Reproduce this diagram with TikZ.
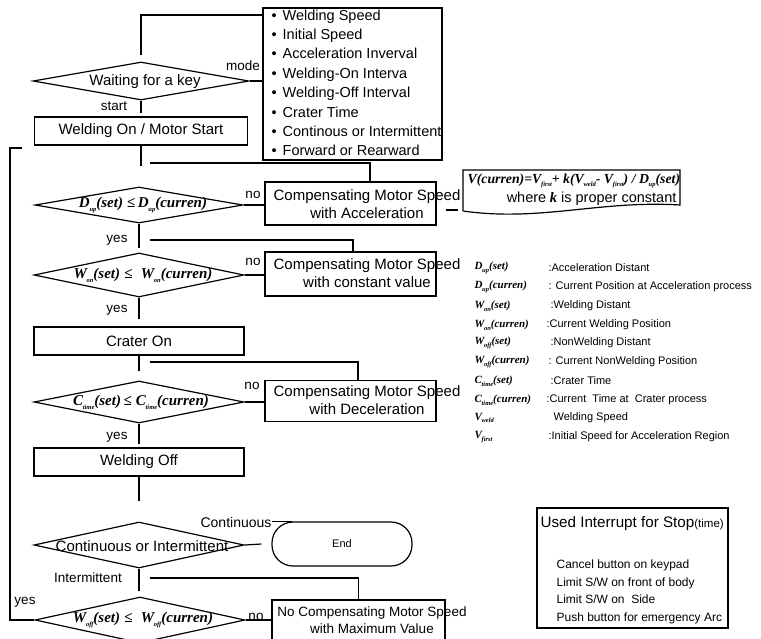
\documentclass[tikz,border=0pt]{standalone}
\usepackage{fontspec}
\setmainfont{Liberation Sans}
\newfontfamily\tmsfont{Liberation Serif}
\usetikzlibrary{shapes.geometric}
\newcommand\fsz[1]{\fontsize{#1}{#1}\selectfont}
\newcommand\subx[2]{#1\kern-0.3pt\raisebox{-0.55ex}{\fontsize{6.5}{6.5}\selectfont #2}}
\newcommand\mysym[3]{{\tmsfont\bfseries\itshape\subx{#1}{#2}(#3)}}
\newcommand\myle{{\tmsfont\bfseries ≤}}
\begin{document}
\begin{tikzpicture}[x=1pt,y=-1pt, line width=1.2pt,
  box/.style={draw, rectangle, inner sep=0pt},
  dia/.style={draw, diamond, inner sep=0pt},
  txt/.style={font=\fsz{15}, inner sep=0pt},
  two/.style={font=\fontsize{15}{18.5}\selectfont, inner sep=0pt, align=center},
  lab/.style={font=\fsz{13.5}, inner sep=0pt},
  cond/.style={font=\fsz{15}, inner sep=0pt},
  leg/.style={font=\fsz{11}, inner sep=0pt, anchor=west},
  legs/.style={font=\fsz{11}, inner sep=0pt, anchor=west},
]
\useasboundingbox (0,0) rectangle (761,638);
\clip (0,0) rectangle (761,638);

% ---- mode box
\node[box, minimum width=179pt, minimum height=152pt] (mode) at (352.5,84) {};
\node[anchor=north west, align=left, inner sep=0pt, font=\fontsize{14.5}{19.4}\selectfont] (modet) at (271,9)
 {\textbullet\hspace{6pt}Welding Speed\\
  \textbullet\hspace{6pt}Initial Speed\\
  \textbullet\hspace{6pt}Acceleration Inverval\\
  \textbullet\hspace{6pt}Welding-On Interva\\
  \textbullet\hspace{6pt}Welding-Off Interval\\
  \textbullet\hspace{6pt}Crater Time\\
  \textbullet\hspace{6pt}Continous or Intermittent\\
  \textbullet\hspace{6pt}Forward or Rearward};

% ---- waiting
\node[dia, minimum width=216pt, minimum height=38pt] (d1) at (141,81) {};
\node[txt] (d1t) at (145,82) {Waiting for a key};
\coordinate (mtop) at (263,15);
\draw ([yshift=6pt]d1.north) |- (mtop);
\draw (d1.east) -- (d1.east -| mode.west);
\node[lab] (lmode) at (243,66) {mode};
\node[lab] (lstart) at (114,106) {start};
\draw (d1.south) -- ++(0,12);

% ---- welding on
\node[box, txt, minimum width=213pt, minimum height=28pt] (won) at (141,131) {Welding On / Motor Start};
\draw (won.south) -- ++(0,20);

% ---- D_up
\node[dia, minimum width=208pt, minimum height=36pt] (d2) at (139,205) {};
\node[cond] (d2t) at (143,205) {\mysym{D}{up}{set}\ \myle\,\mysym{D}{up}{curren}};
\node[box, minimum width=171pt, minimum height=43pt] (b2) at (350.5,203.5) {};
\node[two] (b2t) at (367,204) {Compensating Motor Speed\\with Acceleration};
\coordinate (h2) at (150,163);
\draw (h2) -| ([xshift=19.5pt]b2.north);
\draw (d2.east) -- (d2.east -| b2.west);
\node[lab] (no2) at (253,195) {no};

% ---- formula
\coordinate (fa) at (463,211);
\coordinate (fb) at (463,170);
\coordinate (fc) at (680,170);
\coordinate (fd) at (680,205);
\draw (fa) -- (fb) -- (fc) -- (fd) .. controls (600,200) and (540,222) .. (fa);
\coordinate (dsa) at (446,210);
\coordinate (dsb) at (458,210);
\draw (dsa) -- (dsb);
\node[font=\fsz{13.8}, inner sep=0pt, anchor=west] (f1) at (467,181)
 {{\tmsfont\bfseries\itshape V(curren)=\subx{V}{first}+ k(\subx{V}{weld}- \subx{V}{first}) / \subx{D}{up}(set)}};
\node[font=\fsz{14.5}, inner sep=0pt, anchor=east] (f2) at (677,199)
 {where{\tmsfont\bfseries\itshape\ k} is proper constant};

% ---- W_on
\node[lab] (yes2) at (117,240) {yes};
\draw (d2.south) -- ++(0,24);
\node[dia, minimum width=210pt, minimum height=44pt] (d3) at (139,275) {};
\node[cond] (d3t) at (143,275) {\mysym{W}{on}{set}\ \myle\ \ \mysym{W}{on}{curren}};
\node[box, minimum width=171pt, minimum height=44pt] (b3) at (350.5,274) {};
\node[two] (b3t) at (367,273) {Compensating Motor Speed\\with constant value};
\coordinate (h3) at (150,240);
\draw (h3) -| ([xshift=2.5pt]b3.north);
\draw (d3.east) -- (d3.east -| b3.west);
\node[lab] (no3) at (253,262) {no};
\node[lab] (yes3) at (117,310) {yes};
\draw (d3.south) -- ++(0,21);

% ---- crater
\node[box, txt, minimum width=210pt, minimum height=28pt] (con) at (139,341) {Crater On};
\draw (con.south) -- ++(0,15);
\node[dia, minimum width=210pt, minimum height=42pt] (d4) at (139,402) {};
\node[cond] (d4t) at (141,402) {\mysym{C}{time}{set}\,\myle\ \mysym{C}{time}{curren}};
\node[box, minimum width=171pt, minimum height=41pt] (b4) at (350.5,401) {};
\node[two] (b4t) at (367,400) {Compensating Motor Speed\\with Deceleration};
\coordinate (h4) at (150,362);
\draw (h4) -| ([xshift=7.5pt]b4.north);
\draw (d4.east) -- (d4.east -| b4.west);
\node[lab] (no4) at (252,386) {no};
\node[lab] (yes4) at (117,437) {yes};
\draw (d4.south) -- ++(0,20);

% ---- welding off
\node[box, txt, minimum width=210pt, minimum height=28pt] (woff) at (139,462) {Welding Off};
\draw (woff.south) -- ++(0,24);

% ---- continuous
\node[dia, minimum width=210pt, minimum height=46pt] (d5) at (139,545) {};
\node[txt] (d5t) at (142,546) {Continuous or Intermittent};
\node[draw, rounded corners=21pt, minimum width=140pt, minimum height=44pt, inner sep=0pt] (end) at (342,544) {\fsz{11}End};
\node[lab, font=\fsz{14}] (lcont) at (236,522) {Continuous};
\draw (d5.east) -- ([xshift=-10pt]end.west);
\draw ([xshift=21pt]end.north west) -- (lcont.east |- end.north);
\node[lab] (lint) at (88,578) {Intermittent};
\draw (d5.south) -- ++(0,22);

% ---- W_off
\node[dia, minimum width=210pt, minimum height=46pt] (d6) at (140,620) {};
\node[cond] (d6t) at (143,620) {\mysym{W}{off}{set}\ \myle\ \ \mysym{W}{off}{curren}};
\node[box, minimum width=173pt, minimum height=45pt] (b5) at (358.5,622.5) {};
\node[font=\fontsize{13.5}{17}\selectfont, inner sep=0pt, align=center] (b5t) at (372,620) {No Compensating Motor Speed\\with Maximum Value};
\coordinate (h6) at (150,578);
\draw (h6) -| (b5.north);
\draw (d6.east) -- (d6.east -| b5.west);
\node[lab] (no6) at (256,617) {no};
\node[lab] (yes6) at (25,602) {yes};
\coordinate (lb) at (10,620);
\coordinate (lt) at (10,148);
\coordinate (lte) at (22,148);
\draw (d6.west) -- (lb) -- (lt) -- (lte);

% ---- interrupt box
\node[box, minimum width=191pt, minimum height=120pt] (ib) at (632.5,568) {};
\node[anchor=west, inner sep=0pt, font=\fsz{15.2}] (ibt) at (540,524) {Used Interrupt for Stop{\fsz{11.5}(time)}};
\node[anchor=north west, inner sep=0pt, align=left, font=\fontsize{12}{17.8}\selectfont] (ibi) at (556,559)
 {Cancel button on keypad\\Limit S/W on front of body\\Limit S/W on\ \ Side\\Push button for emergency Arc};

% ---- legend
\node[legs] (s1) at (474,268) {\mysym{D}{up}{set}};
\node[leg]  (t1) at (548,268) {:Acceleration Distant};
\node[legs] (s2) at (474,287) {\mysym{D}{up}{curren}};
\node[leg]  (t2) at (548,287) {: Current Position at Acceleration process};
\node[legs] (s3) at (474,306) {\mysym{W}{on}{set}};
\node[leg]  (t3) at (550,306) {:Welding Distant};
\node[legs] (s4) at (474,325) {\mysym{W}{on}{curren}};
\node[leg]  (t4) at (546,325) {:Current Welding Position};
\node[legs] (s5) at (474,343) {\mysym{W}{off}{set}};
\node[leg]  (t5) at (550,343) {:NonWelding Distant};
\node[legs] (s6) at (474,362) {\mysym{W}{off}{curren}};
\node[leg]  (t6) at (548,362) {: Current NonWelding Position};
\node[legs] (s7) at (474,381) {\mysym{C}{time}{set}};
\node[leg]  (t7) at (550,381) {:Crater Time};
\node[legs] (s8) at (474,400) {\mysym{C}{time}{curren}};
\node[leg]  (t8) at (546,400) {:Current\ \ Time at\ \ Crater process};
\node[legs] (s9) at (474,418) {{\tmsfont\bfseries\itshape\subx{V}{weld}}};
\node[leg]  (t9) at (553,418) {Welding Speed};
\node[legs] (s10) at (474,437) {{\tmsfont\bfseries\itshape\subx{V}{first}}};
\node[leg]  (t10) at (548,437) {:Initial Speed for Acceleration Region};
\end{tikzpicture}
\end{document}
